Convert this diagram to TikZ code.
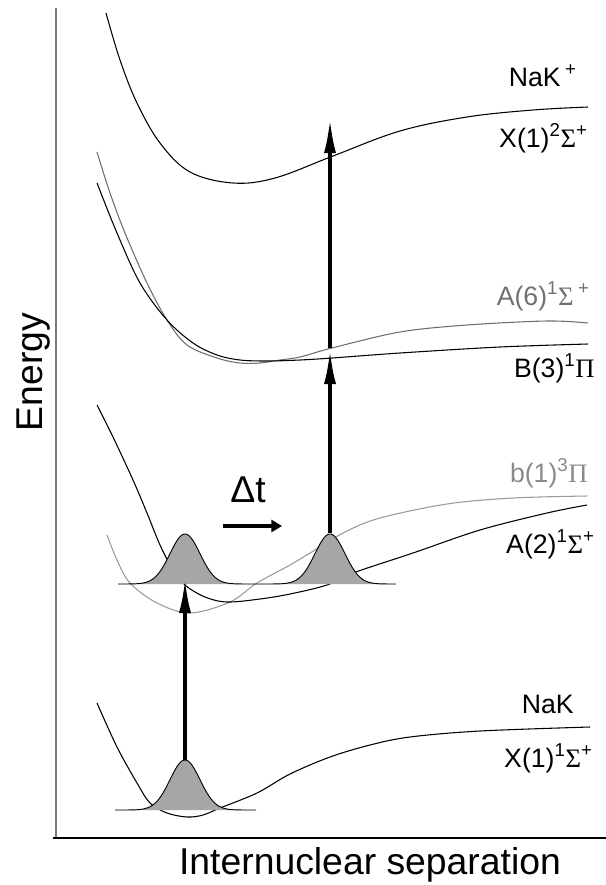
\documentclass[tikz,border=0pt]{standalone}
\usepackage{fontspec}
\setmainfont{Liberation Sans}
\newfontfamily\grfont{Liberation Serif}
\usetikzlibrary{arrows.meta}
\newcommand{\mySig}{{\grfont Σ}}
\newcommand{\myPi}{{\grfont Π}}
\definecolor{pkgray}{HTML}{A6A6A6}
\definecolor{curvegray}{HTML}{6E6E6E}
\definecolor{curvegrayb}{HTML}{9A9A9A}
\definecolor{labgray}{HTML}{707070}
\definecolor{labgrayb}{HTML}{8A8A8A}
\definecolor{axisgray}{HTML}{7A7A7A}
\tikzset{
  pes/.style={line width=0.8pt, black},
  pesA/.style={line width=0.8pt, curvegray},
  pesb/.style={line width=0.8pt, curvegrayb},
  pkfill/.style={fill=pkgray},
  pkline/.style={line width=0.7pt, black},
  pump/.style={line width=3pt, -{Latex[length=27pt,width=9pt]}},
  dtarrow/.style={line width=3pt, -{Triangle[length=8pt,width=9pt]}},
  lab/.style={anchor=base east, inner sep=0pt, font=\fontsize{20}{20}\selectfont},
  big/.style={inner sep=0pt, font=\fontsize{28}{28}\selectfont}
}
\begin{document}
\begin{tikzpicture}[x=0.75pt,y=-0.75pt]
\useasboundingbox (0,0) rectangle (606,885);
% axes
\coordinate (ytop) at (56,8);
\coordinate (yorg) at (56,838);
\coordinate (xorg) at (53,838);
\coordinate (xend) at (606,838);
\draw[axisgray, line width=1.3pt] (ytop) -- (yorg);
\draw[black, line width=1.3pt] (xorg) -- (xend);
% potential curves
\draw[pes] plot[smooth, tension=0.6] coordinates {(106,13) (120,60) (137,103) (160,143) (190,172) (233,183) (275,178) (333,156) (400,131) (467,117) (533,110) (588,107)};
\draw[pesA] plot[smooth, tension=0.55] coordinates {(97,152) (110,193) (125,233) (147,283) (167,320) (187,345) (217,358) (240,363) (260,363) (280,360) (300,357) (332,348) (400,332) (467,325) (547,321) (588,323)};
\draw[pes] plot[smooth, tension=0.55] coordinates {(97,183) (117,233) (140,283) (167,320) (193,343) (217,355) (240,360) (267,361) (300,360) (332,358) (400,353) (500,347) (588,344)};
\draw[pesb] plot[smooth, tension=0.55] coordinates {(107,535) (117,560) (130,583) (157,603) (190,613) (230,602) (257,583) (290,565) (315,550) (345,532) (380,518) (447,504) (513,498) (587,496)};
\draw[pes] plot[smooth, tension=0.55] coordinates {(97,405) (113,437) (133,480) (147,513) (160,545) (172,568) (185,585) (205,597) (227,602) (260,599) (290,594) (327,585) (353,573) (413,553) (480,530) (547,513) (587,505)};
\draw[pes] plot[smooth, tension=0.55] coordinates {(97,703) (117,747) (137,783) (150,803) (167,813) (187,817) (203,815) (220,808) (257,793) (290,774) (330,757) (370,745) (410,737) (480,731) (590,727)};
% wave packets
\fill[pkfill] plot[domain=115:256, samples=160] (\x,{810-50*exp(-min(((\x-185)/15)^2/2,12))}) -- cycle;
\draw[pkline] plot[domain=115:256, samples=160] (\x,{810-50*exp(-min(((\x-185)/15)^2/2,12))});
\fill[pkfill] plot[domain=118:396, samples=260] (\x,{584-50*exp(-min(((\x-185)/15)^2/2,12))-50*exp(-min(((\x-330)/15)^2/2,12))}) -- cycle;
\draw[pkline] plot[domain=118:396, samples=260] (\x,{584-50*exp(-min(((\x-185)/15)^2/2,12))-50*exp(-min(((\x-330)/15)^2/2,12))});
% arrows
\coordinate (pk0) at (185,760);
\coordinate (tipA) at (185,577);
\coordinate (pk2) at (330,533);
\coordinate (tipB) at (330,348);
\coordinate (tipI) at (330,117);
\coordinate (dt1) at (223,526);
\coordinate (dt2) at (282,526);
\draw[pump] (pk0) -- (tipA);
\draw[pump] (pk2) -- (tipB);
\draw[pump] (tipB) -- (tipI);
\draw[dtarrow] (dt1) -- (dt2);
% labels
\node[lab] (lNaKp) at (577,86) {NaK\,\textsuperscript{+}};
\node[lab] (lX2) at (588,147) {X(1)\textsuperscript{2}\mySig\textsuperscript{+}};
\node[lab, text=labgray] (lA6) at (590,305) {A(6)\textsuperscript{1}\mySig\,\textsuperscript{+}};
\node[lab] (lB3) at (595,377) {B(3)\textsuperscript{1}\myPi};
\node[lab, text=labgrayb] (lb1) at (588,482) {b(1)\textsuperscript{3}\myPi};
\node[lab] (lA2) at (595,553) {A(2)\textsuperscript{1}\mySig\textsuperscript{+}};
\node[lab] (lNaK) at (574,713) {NaK};
\node[lab] (lX1) at (593,767) {X(1)\textsuperscript{1}\mySig\textsuperscript{+}};
\node[big, anchor=base] (ldt) at (248,502) {Δt};
\node[big, anchor=base] (lx) at (370,874) {Internuclear separation};
\node[big, anchor=base, rotate=90] (ly) at (42,372) {Energy};
\end{tikzpicture}
\end{document}
